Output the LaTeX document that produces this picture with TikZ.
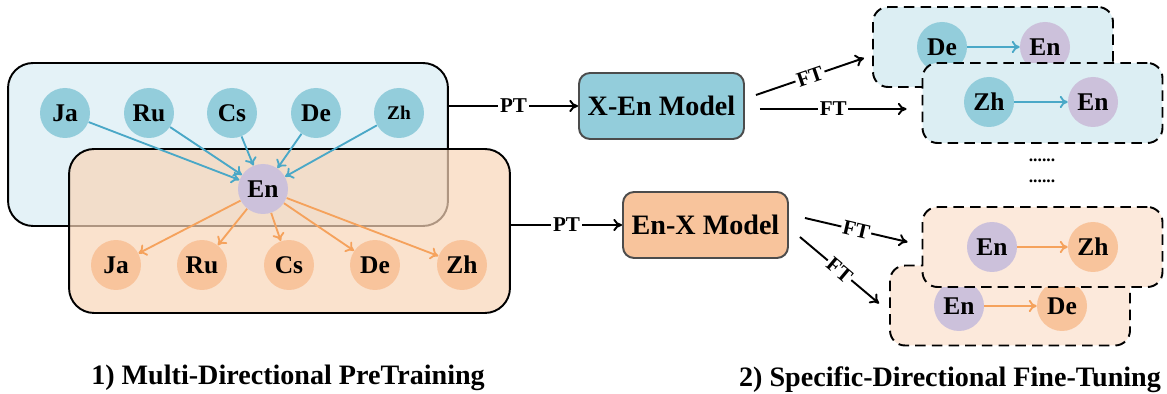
\documentclass[tikz,border=0pt]{standalone}
\usepackage{fontspec}
\setmainfont{Liberation Serif}
\usetikzlibrary{arrows.meta,positioning}

\definecolor{circblue}{HTML}{93CDDB}
\definecolor{circorange}{HTML}{F8C49C}
\definecolor{circpurple}{HTML}{CCC1DB}
\definecolor{boxblue}{HTML}{E4F2F7}
\definecolor{boxorange}{HTML}{F8D5B8}
\definecolor{arrblue}{HTML}{4AA8C7}
\definecolor{arrorange}{HTML}{F5A25C}
\definecolor{ftblue}{HTML}{DCEEF3}
\definecolor{ftorange}{HTML}{FCE9DB}

\tikzset{
  lang/.style={circle, inner sep=0pt, minimum size=1cm, font=\fontsize{14.5}{16}\selectfont\bfseries},
  langbox/.style={draw=black, line width=1.1pt, rounded corners=0.5cm, inner sep=0pt},
  modelbox/.style={draw=black!70, line width=1.1pt, rounded corners=0.22cm, inner sep=0pt,
    minimum width=3.3cm, minimum height=1.32cm, font=\fontsize{16}{18}\selectfont\bfseries},
  ftbox/.style={draw=black, line width=1.1pt, dash pattern=on 6pt off 3.5pt, rounded corners=0.3cm,
    minimum width=4.8cm, minimum height=1.6cm, inner sep=0pt},
  blu/.style={draw=arrblue, line width=1.05pt, -{To[length=4.5pt,width=7pt]}},
  ora/.style={draw=arrorange, line width=1.05pt, -{To[length=4.5pt,width=7pt]}},
  blk/.style={draw=black, line width=1.1pt, -{To[length=5pt,width=7pt]}},
  lbl/.style={fill=white, inner sep=1pt, font=\fontsize{12}{14}\selectfont\bfseries},
}

\begin{document}
\begin{tikzpicture}[x=0.02cm, y=-0.02cm]
\useasboundingbox (0,0) rectangle (1167,394);

% pre-training boxes
\node[langbox, fill=boxblue, minimum width=8.8cm, minimum height=3.26cm] (bluebox) at (228,144.5) {};
\node[langbox, fill=boxorange, fill opacity=0.7, minimum width=8.82cm, minimum height=3.28cm] (orangebox) at (289.5,231) {};

% source languages
\node[lang, fill=circblue] (ja1) at (65,113) {Ja};
\node[lang, fill=circblue] (ru1) at (149,113) {Ru};
\node[lang, fill=circblue] (cs1) at (232,113) {Cs};
\node[lang, fill=circblue] (de1) at (316,113) {De};
\node[lang, fill=circblue, font=\fontsize{11}{13}\selectfont\bfseries] (zh1) at (399,113) {Zh};

\node[lang, fill=circpurple] (en) at (263,189) {En};

% target languages
\node[lang, fill=circorange] (ja2) at (116,265) {Ja};
\node[lang, fill=circorange] (ru2) at (202,265) {Ru};
\node[lang, fill=circorange] (cs2) at (289,265) {Cs};
\node[lang, fill=circorange] (de2) at (375,265) {De};
\node[lang, fill=circorange] (zh2) at (462,265) {Zh};

\foreach \s in {ja1,ru1,cs1,de1,zh1}
  \draw[blu] (\s) -- (en);
\foreach \t in {ja2,ru2,cs2,de2,zh2}
  \draw[ora] (en) -- (\t);

% models
\node[modelbox, fill=circblue] (xen) at (661.5,106) {X-En Model};
\node[modelbox, fill=circorange] (enx) at (705.5,225) {En-X Model};

\draw[blk] (xen.west -| bluebox.east) -- node[lbl] {PT} (xen.west);
\draw[blk] (enx.west -| orangebox.east) -- node[lbl] {PT} (enx.west);

% fine-tuning boxes
\node[ftbox, fill=ftblue] (ft1) at (993,47) {};
\node[lang, fill=circblue] (de3) at (942,47) {De};
\node[lang, fill=circpurple] (en3) at (1045,47) {En};
\draw[blu] (de3) -- (en3);

\node[ftbox, fill=ftblue] (ft2) at (1042.5,103) {};
\node[lang, fill=circblue] (zh4) at (989,102) {Zh};
\node[lang, fill=circpurple] (en4) at (1093,102) {En};
\draw[blu] (zh4) -- (en4);

\node[font=\bfseries] (dots1) at (1042,160) {......};
\node[font=\bfseries] (dots2) at (1042,181) {......};

\node[ftbox, fill=ftorange] (ft4) at (1010,305.5) {};
\node[lang, fill=circpurple] (en6) at (959,306) {En};
\node[lang, fill=circorange] (de6) at (1062,306) {De};
\draw[ora] (en6) -- (de6);

\node[ftbox, fill=ftorange] (ft3) at (1042.5,247) {};
\node[lang, fill=circpurple] (en5) at (992,247) {En};
\node[lang, fill=circorange] (zh5) at (1093,247) {Zh};
\draw[ora] (en5) -- (zh5);

% fine-tuning arrows
\draw[blk] ([shift={(11,-11)}]xen.east) -- node[lbl, sloped] {FT} ([shift={(-8,11)}]ft1.west);
\draw[blk] ([shift={(15,3)}]xen.east) -- node[lbl] {FT} ([shift={(-15,6)}]ft2.west);
\draw[blk] ([shift={(16,-7)}]enx.east) -- node[lbl, sloped] {FT} ([shift={(-14,-5)}]ft3.west);
\draw[blk] ([shift={(11,12)}]enx.east) -- node[lbl, sloped] {FT} ([shift={(-10,-2)}]ft4.west);

% captions
\node[font=\fontsize{16}{18}\selectfont\bfseries] (cap1) at (288,378) {1) Multi-Directional PreTraining};
\node[font=\fontsize{16}{18}\selectfont\bfseries] (cap2) at (950,380) {2) Specific-Directional Fine-Tuning};
\end{tikzpicture}
\end{document}
